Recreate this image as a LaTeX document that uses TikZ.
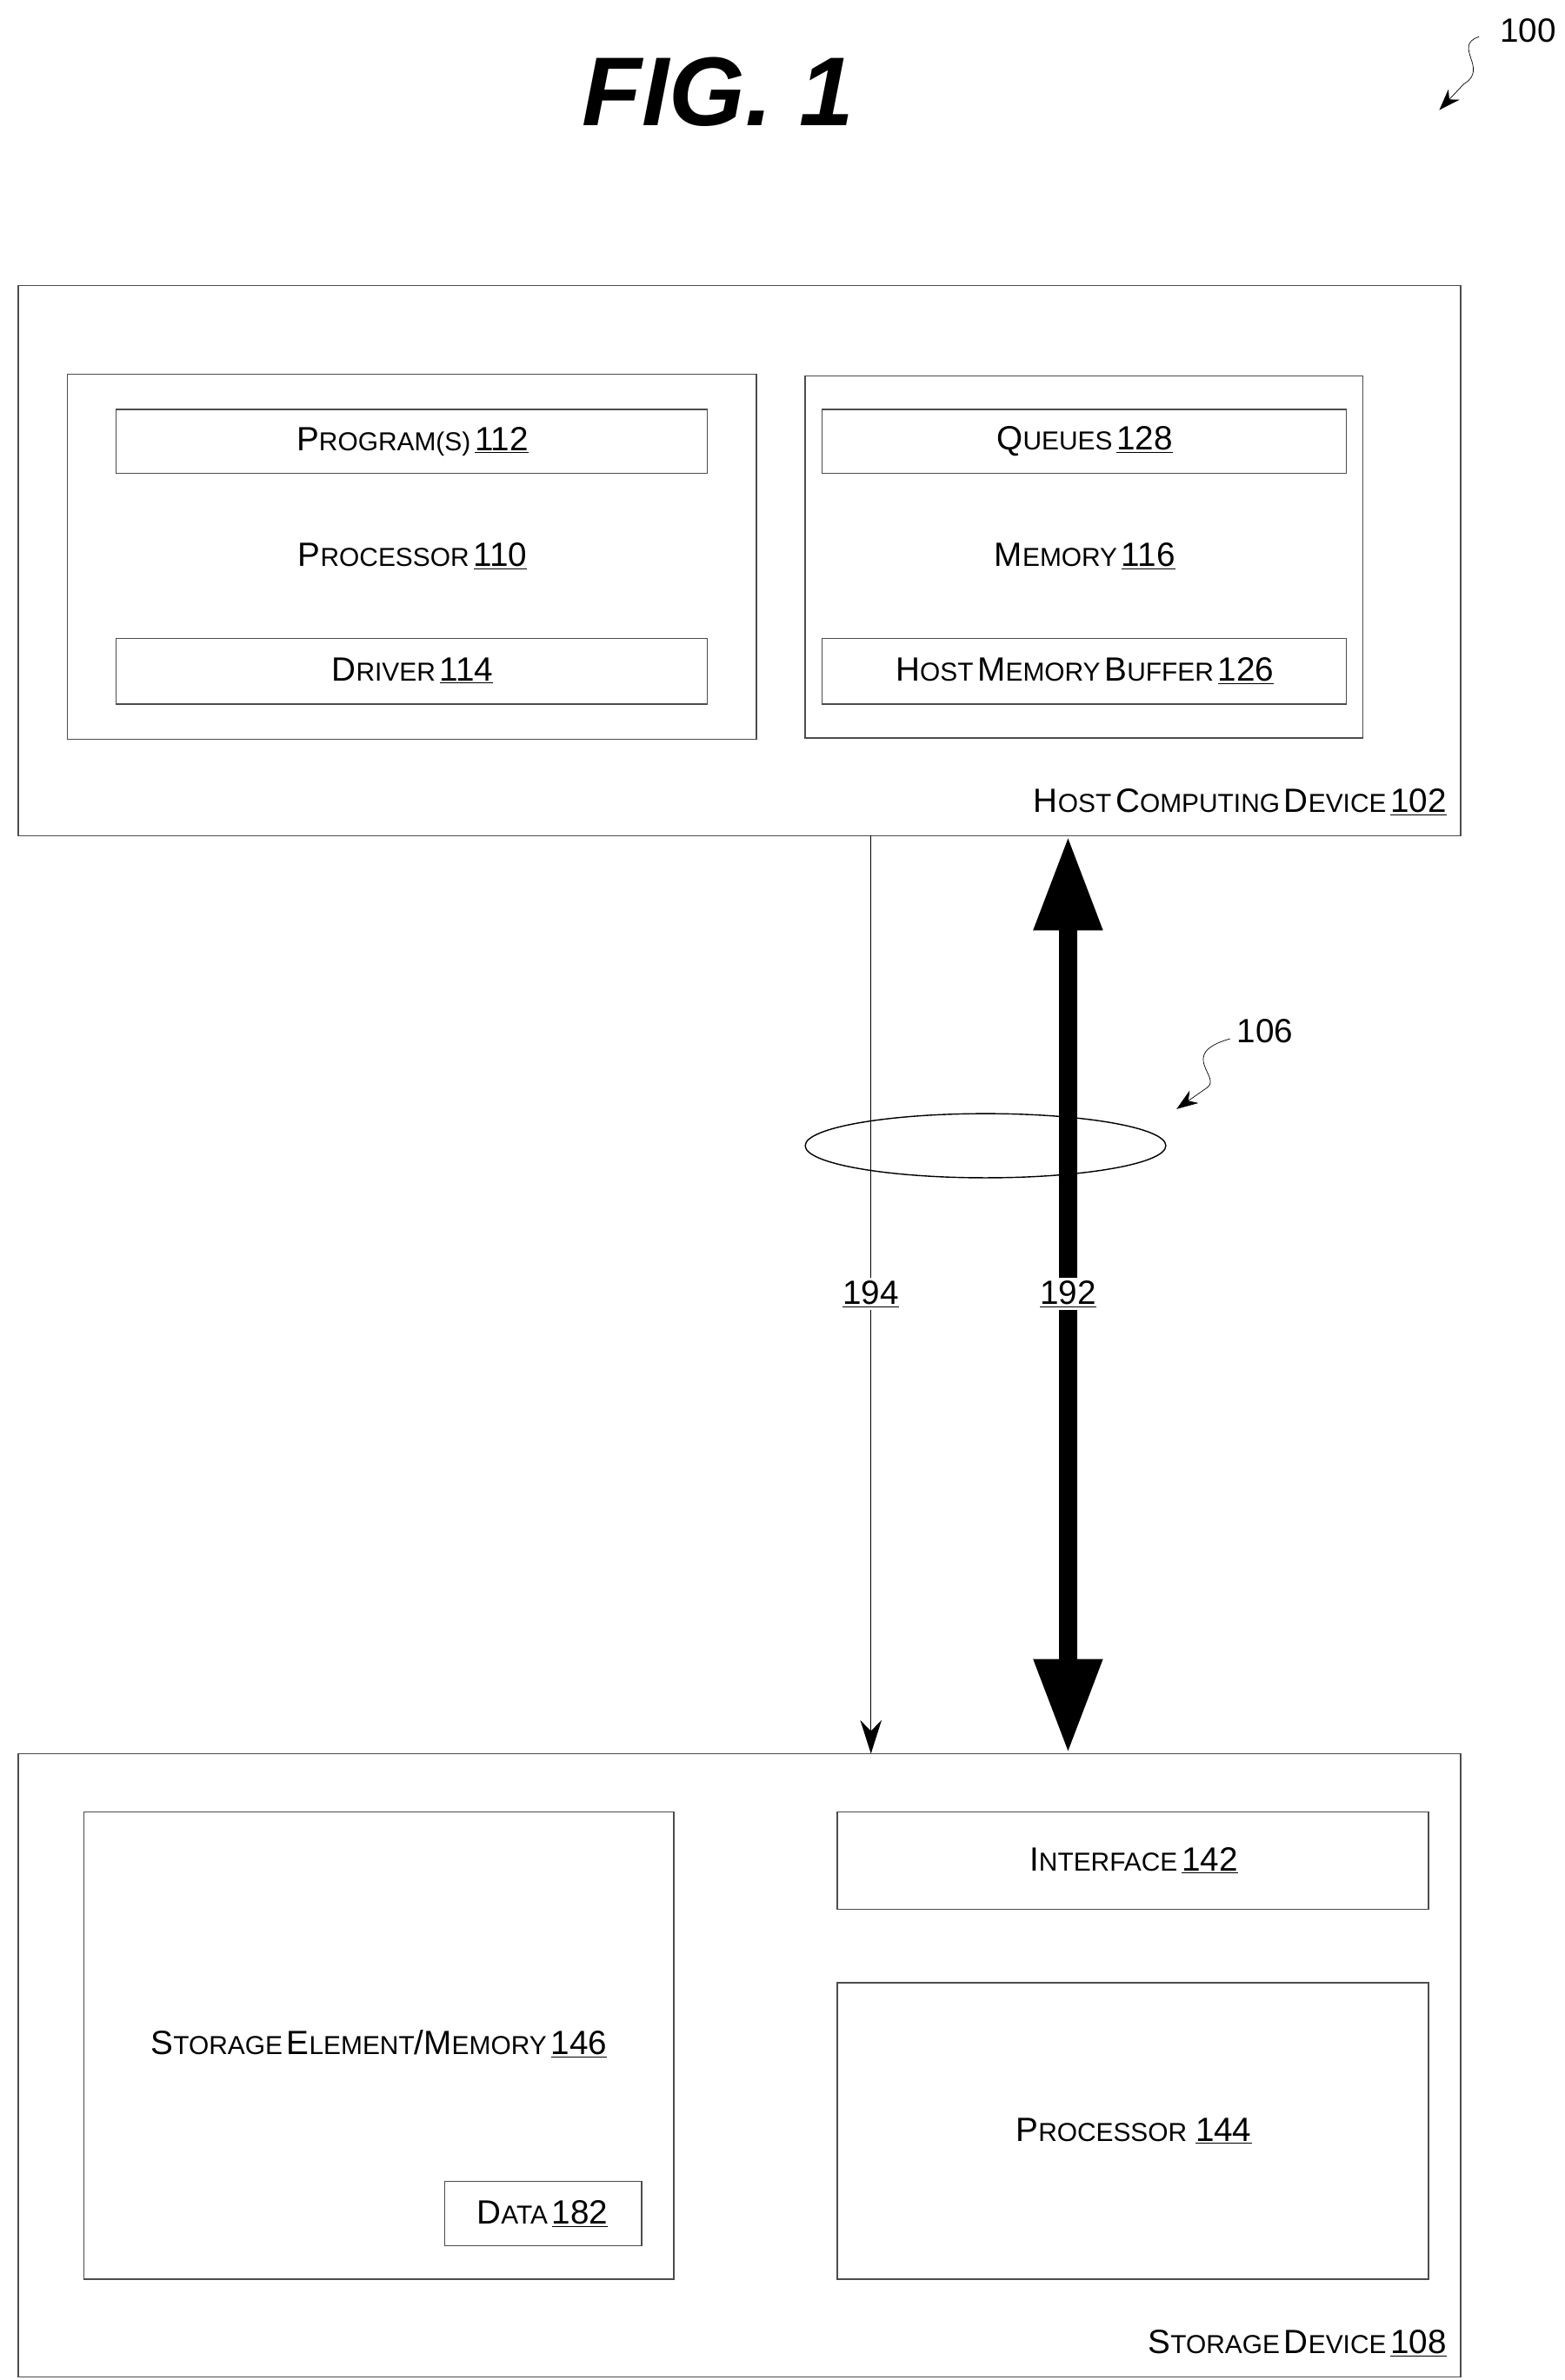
\documentclass[tikz,border=0pt]{standalone}
\usepackage{fontspec}
\setmainfont{Liberation Sans}
\usetikzlibrary{arrows.meta,positioning}
\newcommand{\bg}[1]{{\fontsize{22}{24}\selectfont #1}}
\newcommand{\sml}[1]{{\fontsize{17}{20}\selectfont #1}}
\newcommand{\num}[1]{\bg{\underline{#1}}}

\begin{document}
\begin{tikzpicture}[x=1pt,y=-1pt,
    box/.style={draw=black!70, line width=0.8pt},
    lbl/.style={inner sep=0pt}]
    \useasboundingbox (0,0) rectangle (1024,1558);

    % title and figure reference
    \node[lbl] (fig) at (470,60) {\fontsize{64}{70}\selectfont\bfseries\itshape FIG. 1};
    \node[lbl] (ref100) at (1000,20) {\bg{100}};
    \draw[-{Stealth[length=14pt,width=10pt]}] (968,24) .. controls (950,30) and (975,45) .. (958,55) -- (942,72);

    % host computing device
    \draw[box] (12,187) rectangle (956,547);
    \node[lbl, anchor=east] (host) at (947,525) {\bg{H}\sml{OST} \bg{C}\sml{OMPUTING} \bg{D}\sml{EVICE} \num{102}};

    \draw[box] (44,245) rectangle (495,484);
    \draw[box] (76,268) rectangle (463,310);
    \draw[box] (76,418) rectangle (463,461);
    \node[lbl] (prog) at (270,289) {\bg{P}\sml{ROGRAM(S)} \num{112}};
    \node[lbl] (proc) at (270,364) {\bg{P}\sml{ROCESSOR} \num{110}};
    \node[lbl] (drv) at (270,439) {\bg{D}\sml{RIVER} \num{114}};

    \draw[box] (527,246) rectangle (892,483);
    \draw[box] (538,268) rectangle (881,310);
    \draw[box] (538,418) rectangle (881,461);
    \node[lbl] (queues) at (710,289) {\bg{Q}\sml{UEUES} \num{128}};
    \node[lbl] (mem) at (710,364) {\bg{M}\sml{EMORY} \num{116}};
    \node[lbl] (hmb) at (710,439) {\bg{H}\sml{OST} \bg{M}\sml{EMORY} \bg{B}\sml{UFFER} \num{126}};

    % storage device
    \draw[box] (12,1148) rectangle (956,1556);
    \node[lbl, anchor=east] (stor) at (947,1534) {\bg{S}\sml{TORAGE} \bg{D}\sml{EVICE} \num{108}};

    \draw[box] (55,1186) rectangle (441,1492);
    \node[lbl] (selem) at (248,1338) {\bg{S}\sml{TORAGE} \bg{E}\sml{LEMENT}\bg{/M}\sml{EMORY} \num{146}};
    \draw[box] (291,1428) rectangle (420,1470);
    \node[lbl] (data) at (355,1449) {\bg{D}\sml{ATA} \num{182}};

    \draw[box] (548,1186) rectangle (935,1250);
    \node[lbl] (iface) at (742,1218) {\bg{I}\sml{NTERFACE} \num{142}};
    \draw[box] (548,1298) rectangle (935,1492);
    \node[lbl] (proc2) at (742,1395) {\bg{P}\sml{ROCESSOR}\ \ \num{144}};

    % connections
    \coordinate (a1) at (570,547);
    \coordinate (a2) at (570,1148);
    \coordinate (b1) at (699,547);
    \coordinate (b2) at (699,1148);
    \draw[line width=0.8pt, -{Stealth[length=22pt,width=14pt]}] (a1) -- (a2);
    \draw[line width=12pt, {Triangle[length=62pt,width=42pt]}-{Triangle[length=62pt,width=42pt]}] (b1) -- (b2);
    \draw[line width=0.8pt] (645,750) ellipse (118 and 21);
    \node[fill=white, inner sep=2pt] (l194) at (570,847) {\bg{\underline{194}}};
    \node[fill=white, inner sep=2pt] (l192) at (699,847) {\bg{\underline{192}}};

    \node[lbl] (ref106) at (828,675) {\bg{106}};
    \draw[-{Stealth[length=14pt,width=10pt]}] (805,680) .. controls (770,690) and (800,705) .. (790,712) -- (770,726);
\end{tikzpicture}
\end{document}
